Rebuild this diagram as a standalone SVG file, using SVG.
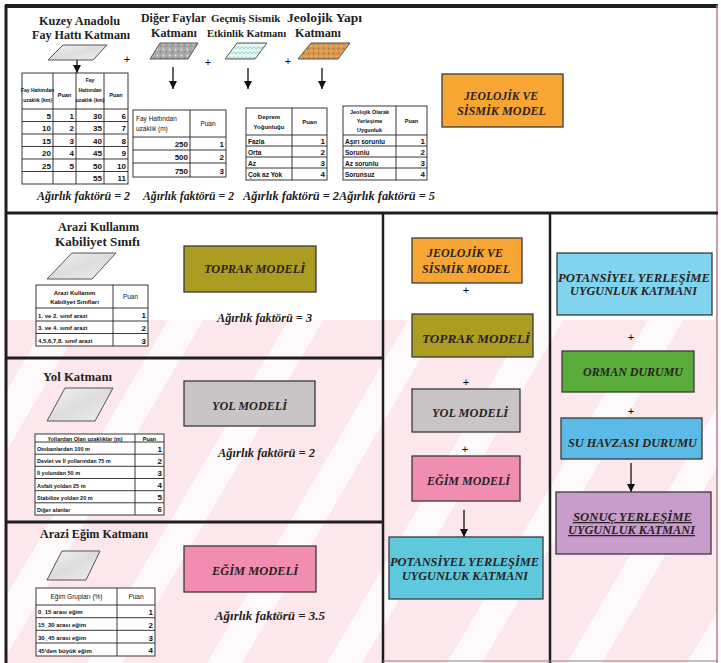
<svg xmlns="http://www.w3.org/2000/svg" width="721" height="663" viewBox="0 0 721 663">
<style>
.ttl{font-family:"Liberation Serif",serif;font-weight:bold;font-size:13px;fill:#222}
.lbl{font-family:"Liberation Serif",serif;font-weight:bold;font-style:italic;font-size:12.5px;fill:#2b2222}
.w{font-family:"Liberation Serif",serif;font-weight:bold;font-style:italic;font-size:12.5px;fill:#222}
.t{font-family:"Liberation Sans",sans-serif;font-weight:bold;font-size:6px;fill:#111}
.n{font-weight:normal}
.s65{font-size:6.5px}
.s55{font-size:5.5px}
.s5{font-size:5px}
.s44{font-size:4.4px}
.v{font-family:"Liberation Sans",sans-serif;font-weight:bold;font-size:8px;fill:#111;text-anchor:end}
.c{text-anchor:middle}
.tbl{fill:#fff;stroke:#222;stroke-width:0.9}
.tl{stroke:#222;stroke-width:0.9}
.box{stroke:#3a3a3a;stroke-width:1.3}
.sec{stroke:#1e1e1e;stroke-width:3;fill:none}
.plus{font-family:"Liberation Sans",sans-serif;font-size:11px;fill:#000;text-anchor:middle}
.arr{stroke:#111;stroke-width:1.3;fill:none;marker-end:url(#ah)}
.ico{stroke:#555;stroke-width:1}
</style>
<defs>
<marker id="ah" markerWidth="8" markerHeight="8" refX="8" refY="4" orient="auto" markerUnits="userSpaceOnUse"><path d="M0,0 L8,4 L0,8 z" fill="#111"/></marker>
<linearGradient id="gGrey" x1="0" y1="0" x2="1" y2="1"><stop offset="0" stop-color="#f4f4f4"/><stop offset="0.5" stop-color="#dcdcdc"/><stop offset="1" stop-color="#f0f0f0"/></linearGradient>
<pattern id="pSpeck" width="6" height="6" patternUnits="userSpaceOnUse"><rect width="6" height="6" fill="#a9a9a9"/><circle cx="1.5" cy="1.5" r="1" fill="#e2e2e2"/><circle cx="4.5" cy="4" r="0.8" fill="#777"/></pattern>
<pattern id="pWave" width="8" height="5" patternUnits="userSpaceOnUse"><rect width="8" height="5" fill="#e6f8f3"/><path d="M0,4 Q2,0 4,4 Q6,0 8,4" stroke="#6cc2b4" stroke-width="0.7" fill="none"/></pattern>
<pattern id="pSand" width="5" height="5" patternUnits="userSpaceOnUse"><rect width="5" height="5" fill="#d7994f"/><circle cx="1.2" cy="1.2" r="0.7" fill="#f0c48a"/><circle cx="3.6" cy="3.5" r="0.7" fill="#a86a30"/></pattern>
<clipPath id="clipBg"><rect x="5" y="320" width="713" height="343"/></clipPath>
</defs>
<rect width="721" height="663" fill="#fff"/>
<g id="watermark" clip-path="url(#clipBg)">
<rect x="5" y="320" width="713" height="343" fill="#fce7ec"/>
<g fill="#ffffff" opacity="0.8">
<polygon points="60,300 95,300 -118,663 -153,663"/>
<polygon points="180,300 215,300 2,663 -33,663"/>
<polygon points="300,300 335,300 122,663 87,663"/>
<polygon points="420,300 455,300 242,663 207,663"/>
<polygon points="540,300 575,300 362,663 327,663"/>
<polygon points="660,300 695,300 482,663 447,663"/>
<polygon points="780,300 815,300 602,663 567,663"/>
<polygon points="900,300 935,300 722,663 687,663"/>
</g>
</g>
<g id="frame">
<line x1="5" y1="6" x2="718" y2="6" stroke="#1e1e1e" stroke-width="4"/>
<line x1="6" y1="5" x2="6" y2="663" stroke="#1e1e1e" stroke-width="3"/>
<line x1="717" y1="5" x2="717" y2="663" stroke="#c47888" stroke-width="1.5"/>
<line x1="5" y1="213" x2="718" y2="213" class="sec"/>
<line x1="383" y1="213" x2="383" y2="663" class="sec" style="stroke-width:2.5"/>
<line x1="550" y1="213" x2="550" y2="663" class="sec" style="stroke-width:2.5"/>
<line x1="5" y1="358" x2="383" y2="358" class="sec"/>
<line x1="5" y1="522" x2="383" y2="522" class="sec"/>
<line x1="383" y1="661" x2="718" y2="661" stroke="#888" stroke-width="1"/>
</g>
<g id="connectors">
<line x1="77" y1="60" x2="77" y2="73" class="arr"/>
<line x1="173" y1="67" x2="173" y2="89" class="arr"/>
<line x1="248" y1="68" x2="248" y2="89" class="arr"/>
<line x1="322" y1="68" x2="322" y2="89" class="arr"/>
<line x1="464" y1="510" x2="464" y2="537" class="arr"/>
<line x1="631" y1="463" x2="631" y2="492" class="arr"/>
<text x="127" y="63" class="plus">+</text>
<text x="208" y="66" class="plus">+</text>
<text x="288" y="65" class="plus">+</text>
<text x="466" y="294" class="plus">+</text>
<text x="466" y="386" class="plus">+</text>
<text x="465" y="453" class="plus">+</text>
<text x="631" y="341" class="plus">+</text>
<text x="631" y="415" class="plus">+</text>
</g>
<g id="kuzey-anadolu">
<text x="39" y="25" class="ttl" textLength="81" lengthAdjust="spacingAndGlyphs">Kuzey Anadolu</text>
<text x="32" y="39" class="ttl" textLength="98" lengthAdjust="spacingAndGlyphs">Fay Hattı Katmanı</text>
<polygon points="63,45 107,45 93,60 48,60" fill="url(#gGrey)" class="ico"/>
<rect x="22" y="73" width="106" height="111" class="tbl"/>
<path d="M53,73V184M76,73V184M104,73V184M22,109H128M22,121.5H128M22,134H128M22,146.5H128M22,159H128M22,171.5H128" class="tl"/>
<text x="37.5" y="92" class="t c s5">Fay Hattından</text>
<text x="37.5" y="102" class="t c s5">uzaklık (km)</text>
<text x="64.5" y="97" class="t c s55">Puan</text>
<text x="90" y="82" class="t c s5">Fay</text>
<text x="90" y="92" class="t c s5">Hattından</text>
<text x="90" y="102" class="t c s5">uzaklık (km)</text>
<text x="116" y="97" class="t c s55">Puan</text>
<text x="51" y="118.5" class="v">5</text><text x="74" y="118.5" class="v">1</text><text x="102" y="118.5" class="v">30</text><text x="126" y="118.5" class="v">6</text>
<text x="51" y="131" class="v">10</text><text x="74" y="131" class="v">2</text><text x="102" y="131" class="v">35</text><text x="126" y="131" class="v">7</text>
<text x="51" y="143.5" class="v">15</text><text x="74" y="143.5" class="v">3</text><text x="102" y="143.5" class="v">40</text><text x="126" y="143.5" class="v">8</text>
<text x="51" y="156" class="v">20</text><text x="74" y="156" class="v">4</text><text x="102" y="156" class="v">45</text><text x="126" y="156" class="v">9</text>
<text x="51" y="168.5" class="v">25</text><text x="74" y="168.5" class="v">5</text><text x="102" y="168.5" class="v">50</text><text x="126" y="168.5" class="v">10</text>
<text x="102" y="181" class="v">55</text><text x="126" y="181" class="v">11</text>
</g>
<g id="diger-faylar">
<text x="141" y="22" class="ttl" textLength="65" lengthAdjust="spacingAndGlyphs">Diğer Faylar</text>
<text x="151" y="37" class="ttl" textLength="46" lengthAdjust="spacingAndGlyphs">Katmanı</text>
<polygon points="160,43 198,43 188,59 150,59" fill="url(#pSpeck)" class="ico"/>
<rect x="133" y="110" width="93" height="67" class="tbl"/>
<path d="M190,110V177M133,137H226M133,150H226M133,163H226" class="tl"/>
<text x="136" y="121" class="t n s65">Fay Hattından</text>
<text x="136" y="131" class="t n s65">uzaklık (m)</text>
<text x="208" y="126" class="t c n s65">Puan</text>
<text x="188" y="147" class="v n">250</text><text x="224" y="147" class="v n">1</text>
<text x="188" y="160" class="v n">500</text><text x="224" y="160" class="v n">2</text>
<text x="188" y="174" class="v n">750</text><text x="224" y="174" class="v n">3</text>
</g>
<g id="gecmis-sismik">
<text x="211" y="22" class="ttl" style="font-size:11px">Geçmiş Sismik</text>
<text x="207" y="37" class="ttl" style="font-size:10.5px">Etkinlik Katmanı</text>
<polygon points="237,43 267,43 255,59 225,59" fill="url(#pWave)" class="ico"/>
<rect x="246" y="108" width="81" height="72" class="tbl"/>
<path d="M292,108V180M246,135H327M246,146H327M246,157H327M246,168H327" class="tl"/>
<text x="269" y="119" class="t c">Deprem</text>
<text x="269" y="129" class="t c">Yoğunluğu</text>
<text x="309.5" y="124" class="t c">Puan</text>
<text x="248" y="143.5" class="t s65">Fazla</text><text x="325" y="143.5" class="v">1</text>
<text x="248" y="154.5" class="t s65">Orta</text><text x="325" y="154.5" class="v">2</text>
<text x="248" y="165.5" class="t s65">Az</text><text x="325" y="165.5" class="v">3</text>
<text x="248" y="177" class="t s65">Çok az Yok</text><text x="325" y="177" class="v">4</text>
</g>
<g id="jeolojik-yapi">
<text x="287" y="22" class="ttl" style="font-size:12px" textLength="75" lengthAdjust="spacingAndGlyphs">Jeolojik Yapı</text>
<text x="295" y="37" class="ttl" style="font-size:11.5px" textLength="46" lengthAdjust="spacingAndGlyphs">Katmanı</text>
<polygon points="311,43 350,43 338,59 298,59" fill="url(#pSand)" class="ico"/>
<rect x="343" y="106" width="84" height="74" class="tbl"/>
<path d="M396,106V180M343,135H427M343,146H427M343,157H427M343,168H427" class="tl"/>
<text x="369.5" y="114" class="t c s55">Jeolojik Olarak</text>
<text x="369.5" y="123" class="t c s55">Yerleşime</text>
<text x="369.5" y="132" class="t c s55">Uygunluk</text>
<text x="411.5" y="123" class="t c s55">Puan</text>
<text x="345" y="143.5" class="t s65">Aşırı sorunlu</text><text x="425" y="143.5" class="v">1</text>
<text x="345" y="154.5" class="t s65">Sorunlu</text><text x="425" y="154.5" class="v">2</text>
<text x="345" y="165.5" class="t s65">Az sorunlu</text><text x="425" y="165.5" class="v">3</text>
<text x="345" y="177" class="t s65">Sorunsuz</text><text x="425" y="177" class="v">4</text>
</g>
<g id="top-weights">
<text x="37" y="200" class="w" textLength="93" lengthAdjust="spacingAndGlyphs">Ağırlık faktörü = 2</text>
<text x="143" y="200" class="w" textLength="91" lengthAdjust="spacingAndGlyphs">Ağırlık faktörü = 2</text>
<text x="243" y="200" class="w" textLength="192" lengthAdjust="spacingAndGlyphs">Ağırlık faktörü = 2Ağırlık faktörü = 5</text>
</g>
<g id="jeolojik-model-top">
<rect x="442" y="74" width="121" height="53" fill="#f7a634" class="box"/>
<text x="501" y="100" class="lbl c" textLength="74" lengthAdjust="spacingAndGlyphs">JEOLOJİK VE</text>
<text x="501.5" y="115" class="lbl c" textLength="89" lengthAdjust="spacingAndGlyphs">SİSMİK MODEL</text>
</g>
<g id="arazi-kullanim">
<text x="58" y="231" class="ttl" textLength="81" lengthAdjust="spacingAndGlyphs">Arazi Kullanım</text>
<text x="55" y="246" class="ttl" textLength="85" lengthAdjust="spacingAndGlyphs">Kabiliyet Sınıfı</text>
<polygon points="72,253 116,253 92,279 47,279" fill="url(#gGrey)" class="ico"/>
<rect x="36" y="285" width="112" height="61" class="tbl"/>
<path d="M113,285V346M36,308H148M36,321H148M36,333.5H148" class="tl"/>
<text x="74.5" y="295" class="t c">Arazi Kullanım</text>
<text x="74.5" y="304" class="t c">Kabiliyet Sınıfları</text>
<text x="130.5" y="299" class="t c n s65">Puan</text>
<text x="38" y="317.5" class="t">1. ve 2. sınıf arazi</text><text x="146" y="318" class="v">1</text>
<text x="38" y="330" class="t">3. ve 4. sınıf arazi</text><text x="146" y="330.5" class="v">2</text>
<text x="38" y="343" class="t">4,5,6,7,8. sınıf arazi</text><text x="146" y="343.5" class="v">3</text>
</g>
<g id="toprak-model">
<rect x="184" y="246" width="132" height="46" fill="#aa9d22" class="box"/>
<text x="254.5" y="273" class="lbl c" textLength="101" lengthAdjust="spacingAndGlyphs">TOPRAK MODELİ</text>
<text x="217" y="322" class="w" textLength="95" lengthAdjust="spacingAndGlyphs">Ağırlık faktörü = 3</text>
</g>
<g id="yol-katmani">
<text x="43" y="381" class="ttl" textLength="69" lengthAdjust="spacingAndGlyphs">Yol Katmanı</text>
<polygon points="65,388 113,388 95,421 47,421" fill="url(#gGrey)" class="ico"/>
<rect x="35" y="434" width="129" height="81" class="tbl"/>
<path d="M135,434V515M35,442H164M35,454.2H164M35,466.3H164M35,478.5H164M35,490.7H164M35,502.8H164" class="tl"/>
<text x="85" y="440.5" class="t c s55">Yollardan Olan uzaklıklar (m)</text>
<text x="149.5" y="440.5" class="t c s55">Puan</text>
<text x="37" y="451" class="t s55">Otobanlardan 100 m</text><text x="162" y="451.5" class="v">1</text>
<text x="37" y="463" class="t s55">Devlet ve İl yollarından 75 m</text><text x="162" y="463.5" class="v">2</text>
<text x="37" y="475" class="t s55">İl yolundan 50 m</text><text x="162" y="475.5" class="v">3</text>
<text x="37" y="487.5" class="t s55">Asfalt yoldan 25 m</text><text x="162" y="488" class="v">4</text>
<text x="37" y="499.5" class="t s55">Stabilize yoldan 20 m</text><text x="162" y="500" class="v">5</text>
<text x="37" y="511.5" class="t s55">Diğer alanlar</text><text x="162" y="512" class="v">6</text>
</g>
<g id="yol-model">
<rect x="184" y="381" width="131" height="45" fill="#c9c5c6" class="box"/>
<text x="249.5" y="410" class="lbl c" textLength="75" lengthAdjust="spacingAndGlyphs">YOL MODELİ</text>
<text x="218" y="457" class="w" textLength="97" lengthAdjust="spacingAndGlyphs">Ağırlık faktörü = 2</text>
</g>
<g id="egim-katmani">
<text x="40" y="538" class="ttl" textLength="108" lengthAdjust="spacingAndGlyphs">Arazi Eğim Katmanı</text>
<polygon points="62,551 100,551 86,580 47,580" fill="url(#gGrey)" class="ico"/>
<rect x="36" y="588" width="119" height="68" class="tbl"/>
<path d="M117,588V656M36,605H155M36,617.7H155M36,630.3H155M36,643H155" class="tl"/>
<text x="76.5" y="599" class="t c n s65">Eğim Grupları (%)</text>
<text x="136" y="599" class="t c n s65">Puan</text>
<text x="38" y="614" class="t">0_15 arası eğim</text><text x="153" y="614.5" class="v">1</text>
<text x="38" y="627" class="t">15_30 arası eğim</text><text x="153" y="627.5" class="v">2</text>
<text x="38" y="640" class="t">30_45 arası eğim</text><text x="153" y="640.5" class="v">3</text>
<text x="38" y="652.5" class="t">45'den büyük eğim</text><text x="153" y="653" class="v">4</text>
</g>
<g id="egim-model">
<rect x="184" y="546" width="132" height="46" fill="#f08db0" class="box"/>
<text x="255" y="575" class="lbl c" textLength="86" lengthAdjust="spacingAndGlyphs">EĞİM MODELİ</text>
<text x="215" y="620" class="w" textLength="110" lengthAdjust="spacingAndGlyphs">Ağırlık faktörü = 3.5</text>
</g>
<g id="mid-jeolojik">
<rect x="412" y="238" width="110" height="45" fill="#f7a634" class="box"/>
<text x="465" y="257" class="lbl c" textLength="76" lengthAdjust="spacingAndGlyphs">JEOLOJİK VE</text>
<text x="466" y="273" class="lbl c" textLength="88" lengthAdjust="spacingAndGlyphs">SİSMİK MODEL</text>
</g>
<g id="mid-toprak">
<rect x="412" y="314" width="121" height="43" fill="#aa9d22" class="box"/>
<text x="476" y="343" class="lbl c" textLength="108" lengthAdjust="spacingAndGlyphs">TOPRAK MODELİ</text>
</g>
<g id="mid-yol">
<rect x="412" y="389" width="108" height="43" fill="#c9c5c6" class="box"/>
<text x="470" y="417" class="lbl c" textLength="76" lengthAdjust="spacingAndGlyphs">YOL MODELİ</text>
</g>
<g id="mid-egim">
<rect x="412" y="456" width="108" height="45" fill="#f08db0" class="box"/>
<text x="468.5" y="485" class="lbl c" textLength="83" lengthAdjust="spacingAndGlyphs">EĞİM MODELİ</text>
</g>
<g id="mid-potansiyel">
<rect x="389" y="537" width="154" height="62" fill="#5ec8dc" class="box"/>
<text x="464.5" y="566" class="lbl c" textLength="149" lengthAdjust="spacingAndGlyphs">POTANSİYEL YERLEŞİME</text>
<text x="465" y="580" class="lbl c" textLength="126" lengthAdjust="spacingAndGlyphs">UYGUNLUK KATMANI</text>
</g>
<g id="right-potansiyel">
<rect x="557" y="253" width="155" height="62" fill="#80d4ee" class="box"/>
<text x="634" y="282" class="lbl c" textLength="152" lengthAdjust="spacingAndGlyphs">POTANSİYEL YERLEŞİME</text>
<text x="633.5" y="295" class="lbl c" textLength="127" lengthAdjust="spacingAndGlyphs">UYGUNLUK KATMANI</text>
</g>
<g id="orman">
<rect x="562" y="351" width="132" height="41" fill="#5aad3a" class="box"/>
<text x="633" y="376" class="lbl c" textLength="100" lengthAdjust="spacingAndGlyphs">ORMAN DURUMU</text>
</g>
<g id="su-havzasi">
<rect x="561" y="418" width="141" height="41" fill="#5bbbe6" class="box"/>
<text x="632.5" y="447" class="lbl c" textLength="129" lengthAdjust="spacingAndGlyphs">SU HAVZASI DURUMU</text>
</g>
<g id="sonuc">
<rect x="556" y="492" width="155" height="62" fill="#c89dcc" class="box"/>
<text x="632.5" y="521" class="lbl c" text-decoration="underline" textLength="119" lengthAdjust="spacingAndGlyphs">SONUÇ  YERLEŞİME</text>
<text x="631.5" y="534" class="lbl c" text-decoration="underline" textLength="127" lengthAdjust="spacingAndGlyphs">UYGUNLUK KATMANI</text>
</g>
</svg>
